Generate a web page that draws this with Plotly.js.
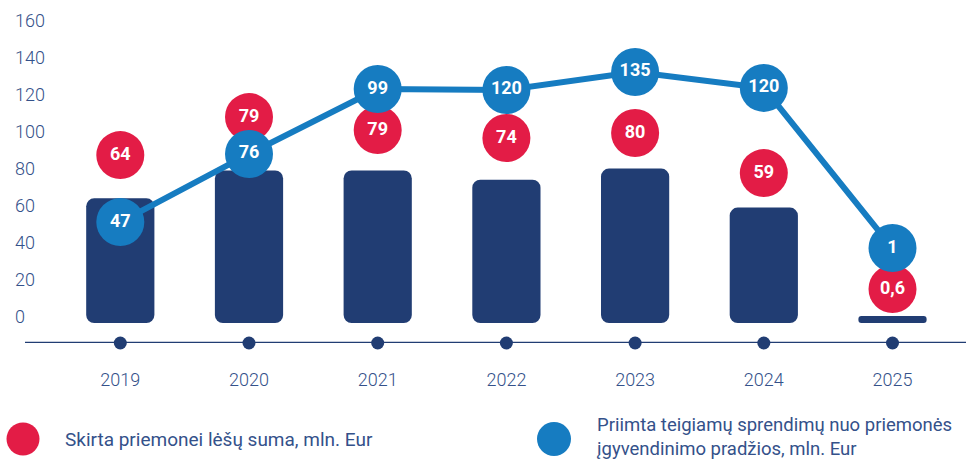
<!DOCTYPE html>
<html>
<head>
<meta charset="utf-8">
<script src="https://cdn.plot.ly/plotly-3.0.1.min.js"></script>
<style>html,body{margin:0;padding:0;background:#fff;}#chart{width:966px;height:461px;}</style>
</head>
<body>
<div id="chart"></div>
<script>
// Data
const years = ['2019', '2020', '2021', '2022', '2023', '2024', '2025'];
const allocated = [64, 79, 79, 74, 80, 59, 0.6];            // Skirta priemonei lėšų suma, mln. Eur
const allocatedLabels = ['64', '79', '79', '74', '80', '59', '0,6'];
const allocatedBadgeLevel = [87.3, 107.8, 100.8, 96.5, 99.2, 77.6, 15.1]; // badge heights
const approved = [47, 76, 99, 120, 135, 120, 1];             // Priimta teigiamų sprendimų ..., mln. Eur
const approvedLabels = ['47', '76', '99', '120', '135', '120', '1'];
const approvedLevel = [51.2, 87.9, 122.9, 122.4, 132.1, 123.5, 37.2]; // line heights
const yTicks = [0, 20, 40, 60, 80, 100, 120, 140, 160];

const NAVY = '#213d73';
const RED = '#e31c46';
const BLUE = '#167cc1';
const TXT = '#34518a';
const FONT = 'Roboto, "Open Sans", sans-serif';

const BAR_BASE = -3.2;
const AXIS_Y = -14;

const traces = [
  {
    type: 'bar',
    x: years,
    y: allocated.map(v => v - BAR_BASE),
    base: BAR_BASE,
    width: 0.53,
    marker: {color: NAVY, cornerradius: 8},
    hoverinfo: 'skip',
    showlegend: false
  },
  {
    type: 'scatter',
    mode: 'markers',
    x: years,
    y: years.map(() => AXIS_Y),
    marker: {color: NAVY, size: 13},
    cliponaxis: false,
    hoverinfo: 'skip',
    showlegend: false
  },
  {
    type: 'scatter',
    mode: 'markers+text',
    x: years,
    y: allocatedBadgeLevel,
    text: allocatedLabels,
    textposition: 'middle center',
    textfont: {family: FONT, size: 18, color: '#ffffff', weight: 'bold'},
    marker: {color: RED, size: 48},
    cliponaxis: false,
    hoverinfo: 'skip',
    showlegend: false
  },
  {
    type: 'scatter',
    mode: 'lines+markers+text',
    x: years,
    y: approvedLevel,
    text: approvedLabels,
    textposition: 'middle center',
    textfont: {family: FONT, size: 18, color: '#ffffff', weight: 'bold'},
    line: {color: BLUE, width: 6},
    marker: {color: BLUE, size: 48},
    cliponaxis: false,
    hoverinfo: 'skip',
    showlegend: false
  }
];

const PLOT_L = 10, PLOT_W = 956, PLOT_T = 0, PLOT_H = 343;
const px2paperX = px => (px - PLOT_L) / PLOT_W;
const px2paperY = py => (PLOT_T + PLOT_H - py) / PLOT_H;

const layout = {
  width: 966,
  height: 461,
  margin: {l: PLOT_L, r: 966 - PLOT_L - PLOT_W, t: PLOT_T, b: 461 - PLOT_T - PLOT_H, pad: 0},
  paper_bgcolor: '#ffffff',
  plot_bgcolor: 'rgba(0,0,0,0)',
  font: {family: FONT, color: TXT},
  showlegend: false,
  xaxis: {
    type: 'category',
    range: [-0.857, 6.571],
    showgrid: false,
    zeroline: false,
    showline: false,
    ticks: '',
    ticklabelstandoff: 24,
    tickfont: {family: FONT, size: 18, color: TXT, weight: 300},
    fixedrange: true
  },
  yaxis: {
    range: [-14, 170.9],
    tickvals: yTicks,
    ticktext: yTicks.map(String),
    ticklabelposition: 'inside',
    ticklabelstandoff: 2,
    showgrid: false,
    zeroline: false,
    showline: false,
    ticks: '',
    tickfont: {family: FONT, size: 18, color: TXT, weight: 300},
    fixedrange: true
  },
  shapes: [
    {
      type: 'line', xref: 'paper', yref: 'y',
      x0: px2paperX(25), x1: 1, y0: AXIS_Y, y1: AXIS_Y,
      line: {color: NAVY, width: 2.5},
      layer: 'below'
    },
    {
      type: 'circle', xref: 'paper', yref: 'paper',
      xsizemode: 'pixel', ysizemode: 'pixel',
      xanchor: px2paperX(23), yanchor: px2paperY(439),
      x0: -16.5, x1: 16.5, y0: -16.5, y1: 16.5,
      fillcolor: RED, line: {width: 0}
    },
    {
      type: 'circle', xref: 'paper', yref: 'paper',
      xsizemode: 'pixel', ysizemode: 'pixel',
      xanchor: px2paperX(554), yanchor: px2paperY(439),
      x0: -17, x1: 17, y0: -17, y1: 17,
      fillcolor: BLUE, line: {width: 0}
    }
  ],
  annotations: [
    {
      xref: 'paper', yref: 'paper', x: px2paperX(63), y: px2paperY(439),
      xanchor: 'left', yanchor: 'middle', showarrow: false,
      text: 'Skirta priemonei lėšų suma, mln. Eur',
      font: {family: FONT, size: 19, color: TXT}
    },
    {
      xref: 'paper', yref: 'paper', x: px2paperX(594), y: px2paperY(437),
      xanchor: 'left', yanchor: 'middle', align: 'left', showarrow: false,
      text: 'Priimta teigiamų sprendimų nuo priemonės<br>įgyvendinimo pradžios, mln. Eur',
      font: {family: FONT, size: 18.5, color: TXT}
    }
  ]
};

Plotly.newPlot('chart', traces, layout, {displayModeBar: false, staticPlot: true});
</script>
</body>
</html>
